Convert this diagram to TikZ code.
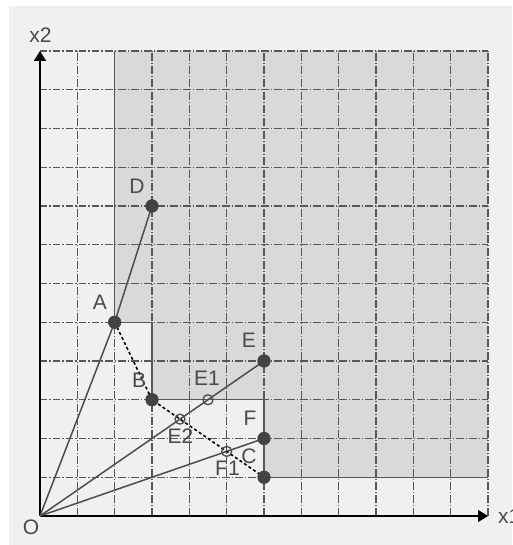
\documentclass[tikz,border=0pt]{standalone}
\usepackage{fontspec}
\setmainfont{Liberation Sans}
\usetikzlibrary{arrows.meta}
\definecolor{bgcol}{HTML}{F0F0F0}
\definecolor{shadecol}{HTML}{D9D9D9}
\definecolor{gridcol}{HTML}{575757}
\definecolor{linecol}{HTML}{4D4D4D}
\definecolor{dotcol}{HTML}{434343}
\definecolor{labcol}{HTML}{4A4A4A}
\begin{document}
\begin{tikzpicture}[x=37.333pt,y=38.75pt,
  gridline/.style={gridcol,line width=1.4pt,dash pattern=on 7.5pt off 2pt on 1.5pt off 2pt},
  border/.style={gridcol,line width=1.4pt},
  axis/.style={black,line width=1.6pt,-{Triangle[length=10pt,width=12pt]}},
  ray/.style={linecol,line width=1.5pt},
  dashline/.style={black,line width=1.6pt,dash pattern=on 3pt off 2.5pt},
  dot/.style={circle,fill=dotcol,inner sep=0pt,minimum size=13pt},
  hollow/.style={circle,draw=linecol,line width=1.3pt,inner sep=0pt,minimum size=10pt},
  lab/.style={labcol,inner sep=0pt,anchor=base,font=\fontsize{21}{25}\selectfont}]
\useasboundingbox (-1.0714,-0.7484) rectangle (12.643,13.316);
\fill[white] (-1.0714,-0.7484) rectangle (12.643,13.316);
\fill[bgcol] (-0.8304,-0.7484) rectangle (12.643,13.161);
% feasible (shaded) region
\fill[shadecol] (2,12) -- (2,5) -- (3,5) -- (3,3) -- (6,3) -- (6,1) -- (12,1) -- (12,12) -- cycle;
% grid
\foreach \i in {1,...,12} {
  \draw[gridline] (\i,0) -- (\i,12);
  \draw[gridline] (0,\i) -- (12,\i);
}
% region border
\draw[border] (2,12) -- (2,5) -- (3,5) -- (3,3) -- (6,3) -- (6,1) -- (12,1);
% axes
\coordinate (O) at (0,0);
\coordinate (xend) at (12,0);
\coordinate (yend) at (0,12);
\draw[axis] (O) -- (xend);
\draw[axis] (O) -- (yend);
% points
\node[dot] (A) at (2,5) {};
\node[dot] (D) at (3,8) {};
\node[dot] (B) at (3,3) {};
\node[dot] (E) at (6,4) {};
\node[dot] (F) at (6,2) {};
\node[dot] (C) at (6,1) {};
% rays
\draw[ray] (O) -- (A.center) -- (D.center);
\draw[ray] (O) -- (E.center);
\draw[ray] (O) -- (F.center);
\draw[dashline] (A.center) -- (B.center) -- (C.center);
% redraw dots on top
\foreach \p in {A,D,B,E,F,C} {
  \fill[dotcol] (\p) circle (6.5pt);
}
% intersection markers
\node[hollow] (E1) at (4.5,3) {};
\node[hollow] (E2) at (3.75,2.5) {};
\node[hollow] (F1) at (5,1.6667) {};
% labels
\node[lab] (lx2) at (0.013,12.232) {x2};
\node[lab,anchor=base west] (lx1) at (12.268,-0.181) {x1};
\node[lab] (lO) at (-0.241,-0.490) {O};
\node[lab] (lA) at (1.607,5.334) {A};
\node[lab] (lD) at (2.598,8.310) {D};
\node[lab] (lB) at (2.652,3.321) {B};
\node[lab] (lE) at (5.598,4.361) {E};
\node[lab] (lE1) at (4.473,3.355) {E1};
\node[lab] (lE2) at (3.763,1.876) {E2};
\node[lab] (lF) at (5.625,2.348) {F};
\node[lab] (lF1) at (5.022,1.058) {F1};
\node[lab] (lC) at (5.598,1.360) {C};
\end{tikzpicture}
\end{document}
